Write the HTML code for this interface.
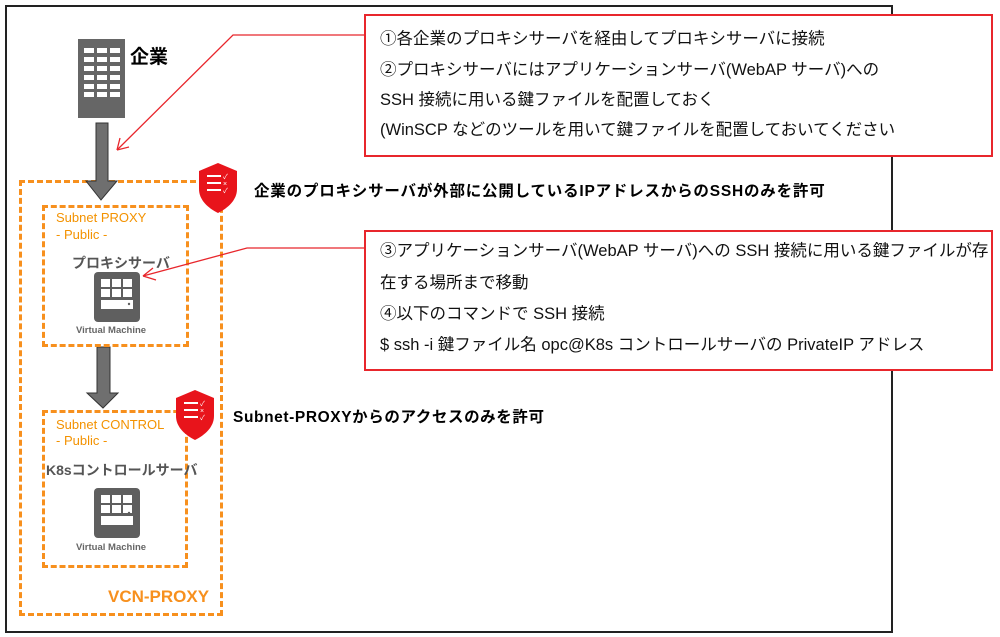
<!DOCTYPE html>
<html><head><meta charset="utf-8"><style>
body{margin:0;width:1000px;height:637px;background:#fff;position:relative;overflow:hidden;font-family:"Liberation Sans","Noto Sans CJK JP",sans-serif}
.a{position:absolute;white-space:nowrap}
.box{position:absolute;border:2px solid #e8262c;background:#fff}
.t{position:absolute;left:14px;font-size:16.5px;color:#111;white-space:nowrap}
.o{color:#f39200;font-size:13px}
.dash{position:absolute;border:3px dashed #f7901e}
</style></head><body>
<div style="position:absolute;left:5px;top:5px;width:884px;height:624px;border:2px solid #222"></div>

<svg class="a" style="left:0;top:0" width="1000" height="637">
<rect x="78" y="39" width="47" height="79" fill="#666"/>
<g fill="#fff">
<rect x="84" y="48" width="10" height="5"/><rect x="97" y="48" width="10" height="5"/><rect x="110" y="48" width="10" height="5"/>
<rect x="84" y="57" width="10" height="5"/><rect x="97" y="57" width="10" height="5"/><rect x="110" y="57" width="10" height="5"/>
<rect x="84" y="66" width="10" height="5"/><rect x="97" y="66" width="10" height="5"/><rect x="110" y="66" width="10" height="5"/>
<rect x="84" y="75" width="10" height="5"/><rect x="97" y="75" width="10" height="5"/><rect x="110" y="75" width="10" height="5"/>
<rect x="84" y="84" width="10" height="5"/><rect x="97" y="84" width="10" height="5"/><rect x="110" y="84" width="10" height="5"/>
<rect x="84" y="92" width="10" height="5"/><rect x="97" y="92" width="10" height="5"/><rect x="110" y="92" width="10" height="5"/>
</g>
<path d="M97 347 H110 V393 H118 L103 408 L87 393 H97 Z" fill="#6f6f6f" stroke="#333" stroke-width="1"/>
</svg>
<div class="a" style="left:130px;top:42px;font-size:19px;font-weight:bold">企業</div>

<div class="dash" style="left:19px;top:180px;width:198px;height:430px"></div>
<div class="dash" style="left:42px;top:205px;width:141px;height:136px"></div>
<div class="dash" style="left:42px;top:410px;width:140px;height:152px"></div>
<svg class="a" style="left:0;top:0" width="1000" height="637">
<g transform="translate(199,163)">
<path d="M19 0 L38 8 V26 C38 37 29 45 19 50 C9 45 0 37 0 26 V8 Z" fill="#e8141b"/>
<g stroke="#fff" stroke-width="2"><line x1="8" y1="13" x2="22" y2="13"/><line x1="8" y1="20" x2="22" y2="20"/><line x1="8" y1="27" x2="22" y2="27"/></g>
<text x="24" y="16" font-size="7" fill="#fff">✓</text><text x="24" y="23" font-size="7" fill="#fff">×</text><text x="24" y="30" font-size="7" fill="#fff">✓</text>
</g>
<g transform="translate(176,390)">
<path d="M19 0 L38 8 V26 C38 37 29 45 19 50 C9 45 0 37 0 26 V8 Z" fill="#e8141b"/>
<g stroke="#fff" stroke-width="2"><line x1="8" y1="13" x2="22" y2="13"/><line x1="8" y1="20" x2="22" y2="20"/><line x1="8" y1="27" x2="22" y2="27"/></g>
<text x="24" y="16" font-size="7" fill="#fff">✓</text><text x="24" y="23" font-size="7" fill="#fff">×</text><text x="24" y="30" font-size="7" fill="#fff">✓</text>
</g>
<path d="M96 123 H108 V181 H117 L101 200 L86 181 H96 Z" fill="#6f6f6f" stroke="#333" stroke-width="1"/>
<g transform="translate(94,272)"><rect width="46" height="50" rx="4" fill="#5f5f5f"/>
<g fill="#fff"><rect x="7" y="7" width="9" height="8"/><rect x="18" y="7" width="9" height="8"/><rect x="29" y="7" width="9" height="8"/><rect x="7" y="17" width="9" height="8"/><rect x="18" y="17" width="9" height="8"/><rect x="29" y="17" width="9" height="8"/><rect x="7" y="28" width="32" height="9"/></g><circle cx="35" cy="32" r="1.2" fill="#5f5f5f"/></g>
<g transform="translate(94,488)"><rect width="46" height="50" rx="4" fill="#5f5f5f"/>
<g fill="#fff"><rect x="7" y="7" width="9" height="8"/><rect x="18" y="7" width="9" height="8"/><rect x="29" y="7" width="9" height="8"/><rect x="7" y="17" width="9" height="8"/><rect x="18" y="17" width="9" height="8"/><rect x="29" y="17" width="9" height="8"/><rect x="7" y="28" width="32" height="9"/></g><circle cx="35" cy="25" r="1.2" fill="#5f5f5f"/></g>
<polyline points="365,248 247,248 143,276" fill="none" stroke="#e8262c" stroke-width="1.3"/>
<path d="M143,276 L153,268 M143,276 L156,280" stroke="#e8262c" stroke-width="1.3"/>
</svg>

<div class="a o" style="left:56px;top:210px">Subnet PROXY</div>
<div class="a o" style="left:56px;top:227px">- Public -</div>
<div class="a" style="left:72px;top:253px;font-size:14px;font-weight:bold;color:#555">プロキシサーバ</div>
<div class="a" style="left:76px;top:325px;font-size:9.5px;font-weight:bold;color:#666">Virtual Machine</div>

<div class="a o" style="left:56px;top:417px">Subnet CONTROL</div>
<div class="a o" style="left:56px;top:433px">- Public -</div>
<div class="a" style="left:46px;top:460px;font-size:14px;font-weight:bold;color:#555">K8sコントロールサーバ</div>
<div class="a" style="left:76px;top:542px;font-size:9.5px;font-weight:bold;color:#666">Virtual Machine</div>
<div class="a" style="left:108px;top:587px;font-size:17px;font-weight:bold;color:#f7901e">VCN-PROXY</div>

<div class="a" style="left:254px;top:179px;font-size:15.5px;font-weight:bold;letter-spacing:0.8px">企業のプロキシサーバが外部に公開しているIPアドレスからのSSHのみを許可</div>
<div class="a" style="left:233px;top:405px;font-size:15.5px;font-weight:bold;letter-spacing:0.6px">Subnet-PROXYからのアクセスのみを許可</div>

<div class="box" style="left:364px;top:14px;width:625px;height:139px">
<div class="t" style="top:9px">①各企業のプロキシサーバを経由してプロキシサーバに接続</div>
<div class="t" style="top:40px">②プロキシサーバにはアプリケーションサーバ(WebAP サーバ)への</div>
<div class="t" style="top:70px">SSH 接続に用いる鍵ファイルを配置しておく</div>
<div class="t" style="top:100px">(WinSCP などのツールを用いて鍵ファイルを配置しておいてください</div>
</div>
<div class="box" style="left:364px;top:230px;width:625px;height:137px">
<div class="t" style="top:5px">③アプリケーションサーバ(WebAP サーバ)への SSH 接続に用いる鍵ファイルが存</div>
<div class="t" style="top:37px">在する場所まで移動</div>
<div class="t" style="top:68px">④以下のコマンドで SSH 接続</div>
<div class="t" style="top:99px">$ ssh -i 鍵ファイル名 opc@K8s コントロールサーバの PrivateIP アドレス</div>
</div>
<svg class="a" style="left:0;top:0" width="1000" height="637">
<polyline points="365,35 233,35 117,150" fill="none" stroke="#e8262c" stroke-width="1.3"/>
<path d="M117,150 L120,138 M117,150 L129,147" stroke="#e8262c" stroke-width="1.3"/>
</svg>
</body></html>
